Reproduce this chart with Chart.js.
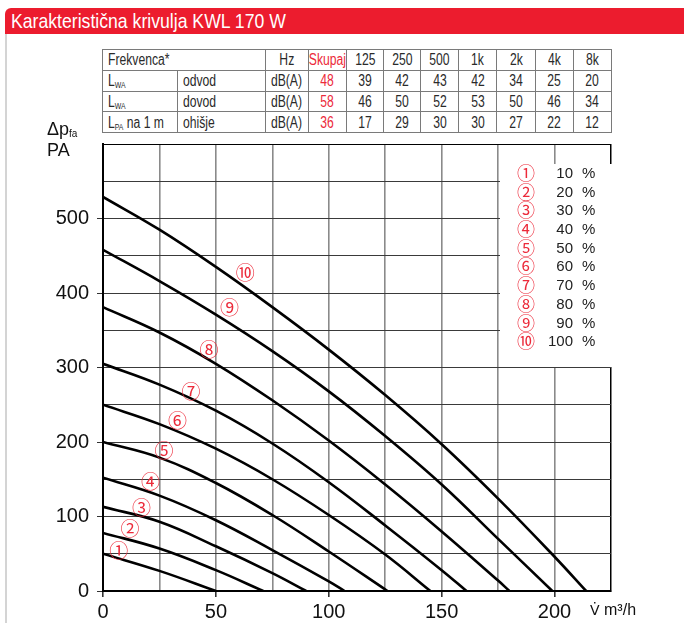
<!DOCTYPE html>
<html>
<head>
<meta charset="utf-8">
<script src="https://cdn.jsdelivr.net/npm/chart.js@4"></script>
<style>
  body { margin: 0; background: #fff; width: 684px; height: 623px; position: relative; overflow: hidden;
         font-family: "Liberation Sans", Arial, sans-serif; }
  .bar { position: absolute; left: 5px; top: 8px; width: 679px; height: 26px; background: #ec1c2e;
         border-top-left-radius: 6px; color: #fff; font-size: 21px; line-height: 26px; padding-left: 6px; box-sizing: border-box; }
  .bar span { display: inline-block; transform: scaleX(0.84); transform-origin: left center; }
  .edge { position: absolute; left: 5px; top: 34px; width: 2px; height: 589px; background: #d4d4d4; }
  table { position: absolute; left: 102px; top: 49px; width: 510px; table-layout: fixed; border-collapse: collapse; font-size: 16px; color: #2a2a2a; }
  tr { height: 20.8px; }
  td { border: 1.5px solid #7a7a7a; padding: 0; text-align: center; line-height: 19px; white-space: nowrap; overflow: hidden; }
  td span { display: inline-block; transform: scaleX(0.76); line-height: 19px; height: 19px; margin: 0 -20px; }
  td.l { text-align: left; padding-left: 5px; }
  td.l span { transform-origin: left center; margin: 0 -40px 0 0; }
  .red { color: #ec2a3a; }
  sub { font-size: 9px; vertical-align: -2px; line-height: 0; }
  #chartBox { position: absolute; left: 0; top: 0; }
  .ylab { position: absolute; left: 47px; top: 119px; font-size: 18px; line-height: 21px; color: #111; }
  .ylab sub { font-size: 10px; }
  .xlab { position: absolute; left: 590px; top: 601px; font-size: 16px; color: #111; }
  .xlab .v { font-family: "DejaVu Sans", sans-serif; font-size: 14px; }
  #legendBox { position: absolute; left: 500px; top: 164px; width: 113px; height: 203px; background: #fff;
               font-size: 15px; color: #222; }
  .row { position: relative; height: 18.7px; line-height: 18.7px; }
  .row .c { position: absolute; left: 17px; top: -1px; color: #ec2a3a; font-family: "Noto Sans CJK JP", "DejaVu Sans", sans-serif; font-size: 18px; }
  .row .n { position: absolute; left: 38px; width: 35px; text-align: right; }
  .row .p { position: absolute; left: 82px; }
</style>
</head>
<body>
<div class="bar"><span>Karakteristična krivulja KWL 170 W</span></div>
<div class="edge"></div>

<table>
  <colgroup><col style="width:75px"><col style="width:87px"><col style="width:43px"><col style="width:38px"><col style="width:37px"><col style="width:37px"><col style="width:38px"><col style="width:38px"><col style="width:38px"><col style="width:38px"><col style="width:38px"></colgroup>
  <tr><td class="l" colspan="2"><span>Frekvenca*</span></td><td><span>Hz</span></td><td class="red"><span>Skupaj</span></td>
      <td><span>125</span></td><td><span>250</span></td><td><span>500</span></td><td><span>1k</span></td><td><span>2k</span></td><td><span>4k</span></td><td><span>8k</span></td></tr>
  <tr><td class="l"><span>L<sub>WA</sub></span></td><td class="l"><span>odvod</span></td><td><span>dB(A)</span></td><td class="red"><span>48</span></td><td><span>39</span></td><td><span>42</span></td><td><span>43</span></td><td><span>42</span></td><td><span>34</span></td><td><span>25</span></td><td><span>20</span></td></tr>
  <tr><td class="l"><span>L<sub>WA</sub></span></td><td class="l"><span>dovod</span></td><td><span>dB(A)</span></td><td class="red"><span>58</span></td><td><span>46</span></td><td><span>50</span></td><td><span>52</span></td><td><span>53</span></td><td><span>50</span></td><td><span>46</span></td><td><span>34</span></td></tr>
  <tr><td class="l"><span>L<sub>PA</sub> na 1 m</span></td><td class="l"><span>ohišje</span></td><td><span>dB(A)</span></td><td class="red"><span>36</span></td><td><span>17</span></td><td><span>29</span></td><td><span>30</span></td><td><span>30</span></td><td><span>27</span></td><td><span>22</span></td><td><span>12</span></td></tr>
</table>

<div id="chartBox"><canvas id="kwlChart" width="684" height="623"></canvas></div>
<div class="ylab">Δp<sub>fa</sub><br>PA</div>
<div class="xlab"><span class="v">V̇</span> m³/h</div>
<div id="legendBox"></div>

<script>
// flow steps (m3/h) where pressures were read, and flow where each curve hits 0 Pa
const flowSteps = [0, 25, 50, 75, 100, 125, 150, 175, 200];
const endFlow = [50, 71, 90, 107, 126, 145, 161, 180, 199, 214];

// pressure (Pa) per fan setting, read at flowSteps
const p1 = [50, 27];
const p2 = [78, 57, 28];
const p3 = [113, 93, 60, 24];
const p4 = [152, 128, 95, 55, 13];
const p5 = [200, 179, 145, 102, 53];
const p6 = [250, 224, 191, 150, 102, 49];
const p7 = [305, 277, 242, 198, 146, 88, 28];
const p8 = [381, 347, 305, 256, 202, 143, 80, 14];
const p9 = [458, 416, 371, 322, 268, 208, 143, 70];
const p10 = [529, 485, 435, 381, 324, 263, 197, 124, 46];

const settingPct = [10, 20, 30, 40, 50, 60, 70, 80, 90, 100];
const circled = ["①", "②", "③", "④", "⑤", "⑥", "⑦", "⑧", "⑨", "⑩"];
// where the curve numbers sit (m3/h, Pa)
const markFlow = [7, 12, 17, 21, 27, 33, 39, 47, 56, 63];
const markPress = [54, 83, 112, 147, 188, 228, 267, 324, 380, 427];

const pressures = [p1, p2, p3, p4, p5, p6, p7, p8, p9, p10];

const datasets = pressures.map((p, i) => ({
  label: settingPct[i] + " %",
  data: p.map((v, k) => ({ x: flowSteps[k], y: v })).concat([{ x: endFlow[i], y: 0 }]),
  borderColor: "#000",
  borderWidth: 2.6,
  pointRadius: 0,
  fill: false,
  tension: 0.4
}));

// legend rows
const legendBox = document.getElementById("legendBox");
settingPct.forEach((pct, i) => {
  const row = document.createElement("div");
  row.className = "row";
  row.innerHTML = '<span class="c">' + circled[i] + '</span><span class="n">' + pct + '</span><span class="p">%</span>';
  legendBox.appendChild(row);
});

const curveMarks = {
  id: "curveMarks",
  afterDatasetsDraw(chart) {
    const { ctx, scales } = chart;
    ctx.save();
    ctx.fillStyle = "#ec2a3a";
    ctx.font = '19px "Noto Sans CJK JP", "DejaVu Sans", sans-serif';
    ctx.textAlign = "center";
    ctx.textBaseline = "middle";
    circled.forEach((c, i) => {
      ctx.fillText(c, scales.x.getPixelForValue(markFlow[i]), scales.y.getPixelForValue(markPress[i]));
    });
    ctx.restore();
  }
};

new Chart(document.getElementById("kwlChart").getContext("2d"), {
  type: "line",
  data: { datasets: datasets },
  options: {
    responsive: false,
    animation: false,
    devicePixelRatio: 1,
    layout: { padding: { top: 144, right: 73, left: 0, bottom: 0 } },
    plugins: { legend: { display: false }, tooltip: { enabled: false } },
    scales: {
      x: {
        type: "linear",
        min: 0,
        max: 225,
        afterFit: s => { s.height = 32; },
        ticks: {
          stepSize: 25,
          autoSkip: false,
          maxRotation: 0,
          padding: 3,
          color: "#111",
          font: { family: "Liberation Sans", size: 20 },
          callback: v => (v % 50 === 0 && v <= 200 ? v : "")
        },
        grid: {
          color: c => (c.tick && c.tick.value === 225 ? "#000" : "#8a8a8a"),
          lineWidth: c => (c.tick && c.tick.value === 225 ? 1.5 : 1.6),
          tickLength: 6,
          tickColor: c => (c.tick && c.tick.value % 50 === 0 && c.tick.value <= 200 ? "#333" : "rgba(0,0,0,0)")
        },
        border: { color: "#000", width: 2 }
      },
      y: {
        min: 0,
        max: 600,
        afterFit: s => { s.width = 103; },
        ticks: {
          stepSize: 50,
          padding: 8,
          color: "#111",
          font: { family: "Liberation Sans", size: 20 },
          callback: v => (v % 100 === 0 && v < 600 ? v : "")
        },
        grid: {
          color: c => (c.tick && c.tick.value === 600 ? "#000" : "#3a3a3a"),
          lineWidth: 1,
          tickLength: 6,
          tickColor: c => (c.tick && c.tick.value % 100 === 0 && c.tick.value < 600 ? "#333" : "rgba(0,0,0,0)")
        },
        border: { color: "#000", width: 2 }
      }
    }
  },
  plugins: [curveMarks]
});
</script>
</body>
</html>
